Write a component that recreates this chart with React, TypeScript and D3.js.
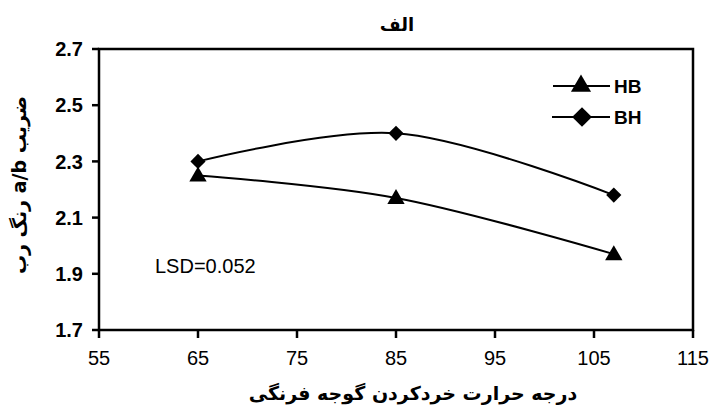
import React from "react";
import * as d3 from "d3";

const temps = [65, 85, 107];
const hbValues = [2.25, 2.17, 1.97];
const bhValues = [2.3, 2.4, 2.18];
const xTicks = [55, 65, 75, 85, 95, 105, 115];
const yTicks = [1.7, 1.9, 2.1, 2.3, 2.5, 2.7];

const W = 714;
const H = 415;
const margin = { top: 49, right: 21, bottom: 85, left: 99 };

const triangle = d3.symbol().type(d3.symbolTriangle).size(130);
const diamond = d3.symbol().type(d3.symbolSquare).size(115);
const legTriangle = d3.symbol().type(d3.symbolTriangle).size(175);
const legDiamond = d3.symbol().type(d3.symbolSquare).size(195);

function App() {
  const width = W - margin.left - margin.right;
  const height = H - margin.top - margin.bottom;

  const x = d3.scaleLinear().domain([55, 115]).range([0, width]);
  const y = d3.scaleLinear().domain([1.7, 2.7]).range([height, 0]);

  const line = d3
    .line<[number, number]>()
    .x((d) => x(d[0]))
    .y((d) => y(d[1]))
    .curve(d3.curveCatmullRom.alpha(0.5));

  const hb = temps.map((t, i) => [t, hbValues[i]] as [number, number]);
  const bh = temps.map((t, i) => [t, bhValues[i]] as [number, number]);

  const font = "'Liberation Sans', Arial, sans-serif";
  const faFont = "'DejaVu Sans', 'Noto Sans', sans-serif";

  return (
    <svg
      width={W}
      height={H}
      style={{ position: "absolute", left: 0, top: 0, background: "#fff" }}
    >
      <text
        x={397}
        y={31}
        textAnchor="middle"
        fontFamily={faFont}
        fontWeight="bold"
        fontSize={18}
        direction="rtl"
      >
        الف
      </text>
      <g transform={`translate(${margin.left},${margin.top})`}>
        {/* frame */}
        <rect
          x={0}
          y={0}
          width={width}
          height={height}
          fill="none"
          stroke="#000"
          strokeWidth={2.5}
        />
        {/* y ticks */}
        {yTicks.map((t) => (
          <g key={t} transform={`translate(0,${y(t)})`}>
            <line x1={-7} x2={0} stroke="#000" strokeWidth={2.5} />
            <text
              x={-16}
              dy="0.36em"
              textAnchor="end"
              fontFamily={font}
              fontWeight="bold"
              fontSize={20}
            >
              {t.toFixed(1)}
            </text>
          </g>
        ))}
        {/* x ticks */}
        {xTicks.map((t) => (
          <g key={t} transform={`translate(${x(t)},${height})`}>
            <line y1={0} y2={8} stroke="#000" strokeWidth={2.5} />
            <text
              y={35}
              textAnchor="middle"
              fontFamily={font}
              fontSize={20}
            >
              {t}
            </text>
          </g>
        ))}
        {/* series */}
        <path d={line(hb) ?? ""} fill="none" stroke="#000" strokeWidth={2} />
        <path d={line(bh) ?? ""} fill="none" stroke="#000" strokeWidth={2} />
        {hb.map((d, i) => (
          <path
            key={"hb" + i}
            d={triangle() ?? ""}
            transform={`translate(${x(d[0])},${y(d[1]) + 1})`}
            fill="#000"
          />
        ))}
        {bh.map((d, i) => (
          <path
            key={"bh" + i}
            d={diamond() ?? ""}
            transform={`translate(${x(d[0])},${y(d[1])}) rotate(45)`}
            fill="#000"
          />
        ))}
        <text x={56} y={224} fontFamily={font} fontSize={20}>
          LSD=0.052
        </text>
        {/* legend */}
        <g transform="translate(454,37)">
          <line x1={0} x2={57} stroke="#000" strokeWidth={2} />
          <path d={legTriangle() ?? ""} transform="translate(28,0)" fill="#000" />
          <text x={61} dy="0.36em" fontFamily={font} fontWeight="bold" fontSize={19}>
            HB
          </text>
        </g>
        <g transform="translate(453,68)">
          <line x1={0} x2={58} stroke="#000" strokeWidth={2} />
          <path
            d={legDiamond() ?? ""}
            transform="translate(30,0) rotate(45)"
            fill="#000"
          />
          <text x={62} dy="0.36em" fontFamily={font} fontWeight="bold" fontSize={19}>
            BH
          </text>
        </g>
      </g>
      <text
        x={413}
        y={400}
        textAnchor="middle"
        fontFamily={faFont}
        fontWeight="bold"
        fontSize={19}
        direction="rtl"
      >
        درجه حرارت خردکردن گوجه فرنگی
      </text>
      <text
        transform="translate(26,185) rotate(-90)"
        textAnchor="middle"
        fontFamily={faFont}
        fontWeight="bold"
        fontSize={19}
        direction="rtl"
      >
        {"ضریب \u2066a/b\u2069 رنگ رب"}
      </text>
    </svg>
  );
}

export default App;
